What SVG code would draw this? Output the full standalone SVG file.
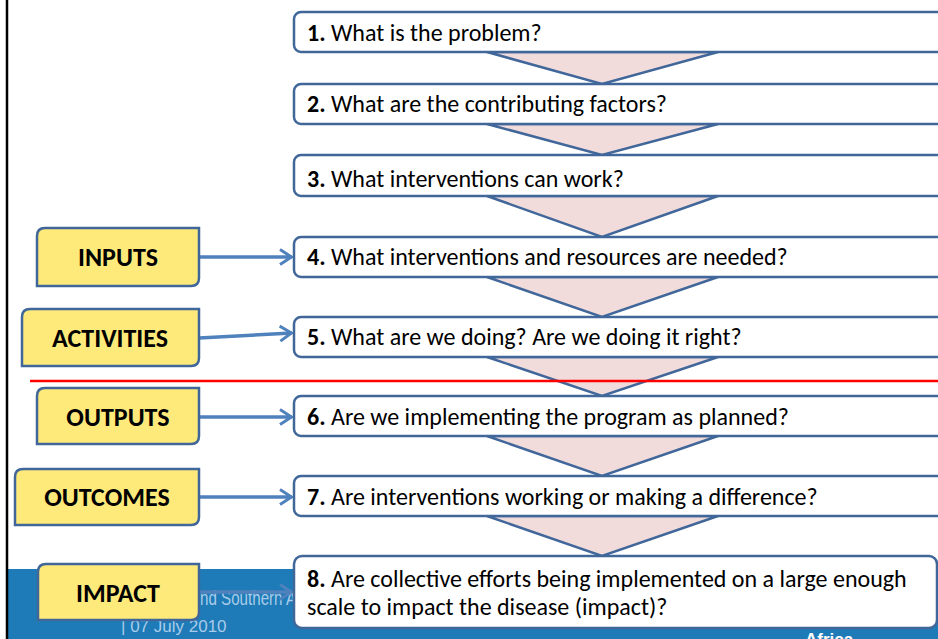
<svg xmlns="http://www.w3.org/2000/svg" width="938" height="639" viewBox="0 0 938 639">
<defs>
<style>
.q{fill:#fff;stroke:#41679A;stroke-width:2.5}
.tri{fill:#F2DCDB;stroke:#41679A;stroke-width:2.5;stroke-linejoin:miter}
.y{fill:#FDEA7A;stroke:#41679A;stroke-width:2.5}
.qt{font-family:Carlito,Lato,"Liberation Sans",sans-serif;font-size:24px;fill:#000}
.yt{font-family:Carlito,Lato,"Liberation Sans",sans-serif;font-size:26px;font-weight:bold;fill:#000;text-anchor:middle}
.b{font-weight:bold}
.arr{fill:none;stroke:#4F81BD;stroke-width:3.5}
.ft{font-family:"Liberation Sans",Arial,sans-serif;fill:#A8CCEA}
</style>
<marker id="ah" viewBox="0 0 14 18" refX="13" refY="9" markerWidth="14" markerHeight="18" markerUnits="userSpaceOnUse" orient="auto">
<path d="M1,1.5 L12.5,9 L1,16.5" fill="none" stroke="#4F81BD" stroke-width="3"/>
</marker>
</defs>
<rect width="938" height="639" fill="#fff"/>
<g id="footer">
<rect x="8" y="569" width="930" height="70" fill="#1E7BB7"/>
<text class="ft" x="200" y="605" font-size="21" textLength="96" lengthAdjust="spacingAndGlyphs">nd Southern A</text>
<text class="ft" x="121" y="632" font-size="17">| 07 July 2010</text>
<text x="805" y="645" font-family="'Liberation Sans',Arial,sans-serif" font-size="17" font-weight="bold" fill="#fff">Africa</text>
</g>
<line x1="7" y1="0" x2="7" y2="639" stroke="#000" stroke-width="2.5"/>
<g id="funnel">
<polygon class="tri" points="487,52 718,52 602,84"/>
<polygon class="tri" points="487,124 718,124 602,155"/>
<polygon class="tri" points="487,196 718,196 602,237"/>
<polygon class="tri" points="487,277 718,277 602,317"/>
<polygon class="tri" points="487,357 718,357 602,396"/>
<polygon class="tri" points="487,436 718,436 602,476"/>
<polygon class="tri" points="487,516 718,516 602,556"/>
</g>
<line x1="30" y1="381" x2="938" y2="381" stroke="#FF0000" stroke-width="2.5"/>
<g id="connectors">
<line class="arr" x1="199" y1="257" x2="292" y2="257" marker-end="url(#ah)"/>
<line class="arr" x1="199" y1="338" x2="292" y2="333" marker-end="url(#ah)"/>
<line class="arr" x1="199" y1="417" x2="292" y2="417" marker-end="url(#ah)"/>
<line class="arr" x1="199" y1="497" x2="292" y2="497" marker-end="url(#ah)"/>
<line class="arr" x1="199" y1="592" x2="292" y2="592" marker-end="url(#ah)"/>
</g>
<g id="q1"><rect class="q" x="294" y="12" width="660" height="40" rx="7"/><text class="qt" x="307" y="41"><tspan class="b">1.</tspan> What is the problem?</text></g>
<g id="q2"><rect class="q" x="294" y="84" width="660" height="40" rx="7"/><text class="qt" x="307" y="112"><tspan class="b">2.</tspan> What are the contributing factors?</text></g>
<g id="q3"><rect class="q" x="294" y="155" width="660" height="41" rx="7"/><text class="qt" x="307" y="187"><tspan class="b">3.</tspan> What interventions can work?</text></g>
<g id="q4"><rect class="q" x="294" y="237" width="660" height="40" rx="7"/><text class="qt" x="307" y="265"><tspan class="b">4.</tspan> What interventions and resources are needed?</text></g>
<g id="q5"><rect class="q" x="294" y="317" width="660" height="40" rx="7"/><text class="qt" x="307" y="345"><tspan class="b">5.</tspan> What are we doing? Are we doing it right?</text></g>
<g id="q6"><rect class="q" x="294" y="396" width="660" height="40" rx="7"/><text class="qt" x="307" y="425"><tspan class="b">6.</tspan> Are we implementing the program as planned?</text></g>
<g id="q7"><rect class="q" x="294" y="476" width="660" height="40" rx="7"/><text class="qt" x="307" y="505"><tspan class="b">7.</tspan> Are interventions working or making a difference?</text></g>
<g id="q8"><rect class="q" x="294" y="556" width="643" height="72" rx="8"/><text class="qt" x="307" y="587"><tspan class="b">8.</tspan> Are collective efforts being implemented on a large enough<tspan x="307" dy="28">scale to impact the disease (impact)?</tspan></text></g>
<g id="inputs"><path class="y" d="M45,228 H199 V278 Q199,286 191,286 H37 V236 Q37,228 45,228 Z"/><text class="yt" x="118" y="266">INPUTS</text></g>
<g id="activities"><path class="y" d="M30,309 H199 V358 Q199,366 191,366 H22 V317 Q22,309 30,309 Z"/><text class="yt" x="110" y="347">ACTIVITIES</text></g>
<g id="outputs"><path class="y" d="M45,388 H199 V436 Q199,444 191,444 H37 V396 Q37,388 45,388 Z"/><text class="yt" x="118" y="426">OUTPUTS</text></g>
<g id="outcomes"><path class="y" d="M23,469 H199 V517 Q199,525 191,525 H15 V477 Q15,469 23,469 Z"/><text class="yt" x="107" y="506">OUTCOMES</text></g>
<g id="impact"><path class="y" d="M46,564 H199 V612 Q199,620 191,620 H38 V572 Q38,564 46,564 Z"/><text class="yt" x="118" y="602">IMPACT</text></g>
</svg>
